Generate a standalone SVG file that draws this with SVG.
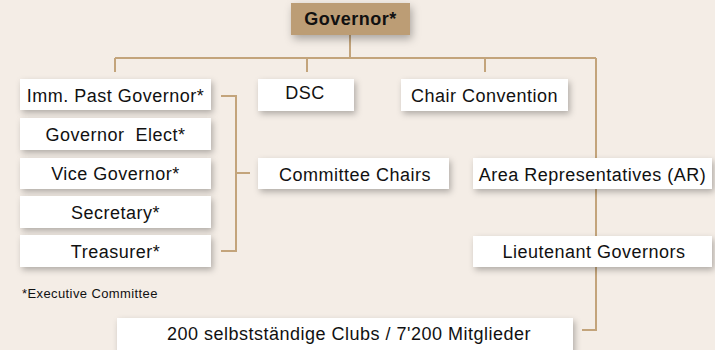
<svg xmlns="http://www.w3.org/2000/svg" width="715" height="350" viewBox="0 0 715 350">
<defs>
<filter id="sh" x="-20%" y="-30%" width="140%" height="180%">
<feDropShadow dx="2" dy="3" stdDeviation="3" flood-color="#000" flood-opacity="0.28"/>
</filter>
<filter id="shg" x="-30%" y="-40%" width="160%" height="200%">
<feDropShadow dx="2" dy="4" stdDeviation="4" flood-color="#000" flood-opacity="0.3"/>
</filter>
</defs>
<style>
.box{fill:#fff;filter:url(#sh);}
.gov{fill:#BC9D74;filter:url(#shg);}
.t{font-family:"Liberation Sans",Arial,sans-serif;font-size:18px;letter-spacing:0.5px;fill:#111;text-anchor:middle;}
.b{font-weight:bold;}
.c{fill:none;stroke:#C3A47B;stroke-width:2;}
.fn{font-family:"Liberation Sans",Arial,sans-serif;font-size:13px;letter-spacing:0.4px;fill:#111;}
</style>
<rect width="715" height="350" fill="#F4EDE6"/>
<g id="connectors">
<path class="c" d="M350 35V58M115 58H596M115 58V72M307 58V72M485 58V72M596 58V330H582"/>
<path class="c" d="M221 96H236V251H221M236 173H250"/>
</g>
<g id="governor"><rect class="gov" x="291" y="3" width="119" height="32"/><text class="t b" x="350.5" y="24.5">Governor*</text></g>
<g id="imm-past"><rect class="box" x="20" y="79" width="191" height="31"/><text class="t" x="115.5" y="101.5">Imm. Past Governor*</text></g>
<g id="gov-elect"><rect class="box" x="20" y="118" width="191" height="32"/><text class="t" x="115.5" y="140.5">Governor&#160; Elect*</text></g>
<g id="vice"><rect class="box" x="20" y="158" width="191" height="31"/><text class="t" x="115.5" y="180">Vice Governor*</text></g>
<g id="secretary"><rect class="box" x="20" y="196" width="191" height="32"/><text class="t" x="115.5" y="218.5">Secretary*</text></g>
<g id="treasurer"><rect class="box" x="20" y="235" width="191" height="32"/><text class="t" x="115.5" y="257.5">Treasurer*</text></g>
<g id="dsc"><rect class="box" x="258" y="79" width="96" height="32"/><text class="t" x="305" y="99">DSC</text></g>
<g id="chair-convention"><rect class="box" x="401" y="79" width="167" height="32"/><text class="t" x="484.5" y="102">Chair Convention</text></g>
<g id="committee-chairs"><rect class="box" x="258" y="158" width="191" height="31"/><text class="t" x="355" y="180.5">Committee Chairs</text></g>
<g id="area-rep"><rect class="box" x="473" y="158" width="239" height="31"/><text class="t" x="592.5" y="180.5">Area Representatives (AR)</text></g>
<g id="lieutenant"><rect class="box" x="473" y="236" width="239" height="31"/><text class="t" x="594" y="258">Lieutenant Governors</text></g>
<g id="clubs"><rect class="box" x="117" y="318" width="456" height="40"/><text class="t" x="349" y="340">200 selbstständige Clubs / 7'200 Mitglieder</text></g>
<text class="fn" x="22" y="298">*Executive Committee</text>
</svg>
